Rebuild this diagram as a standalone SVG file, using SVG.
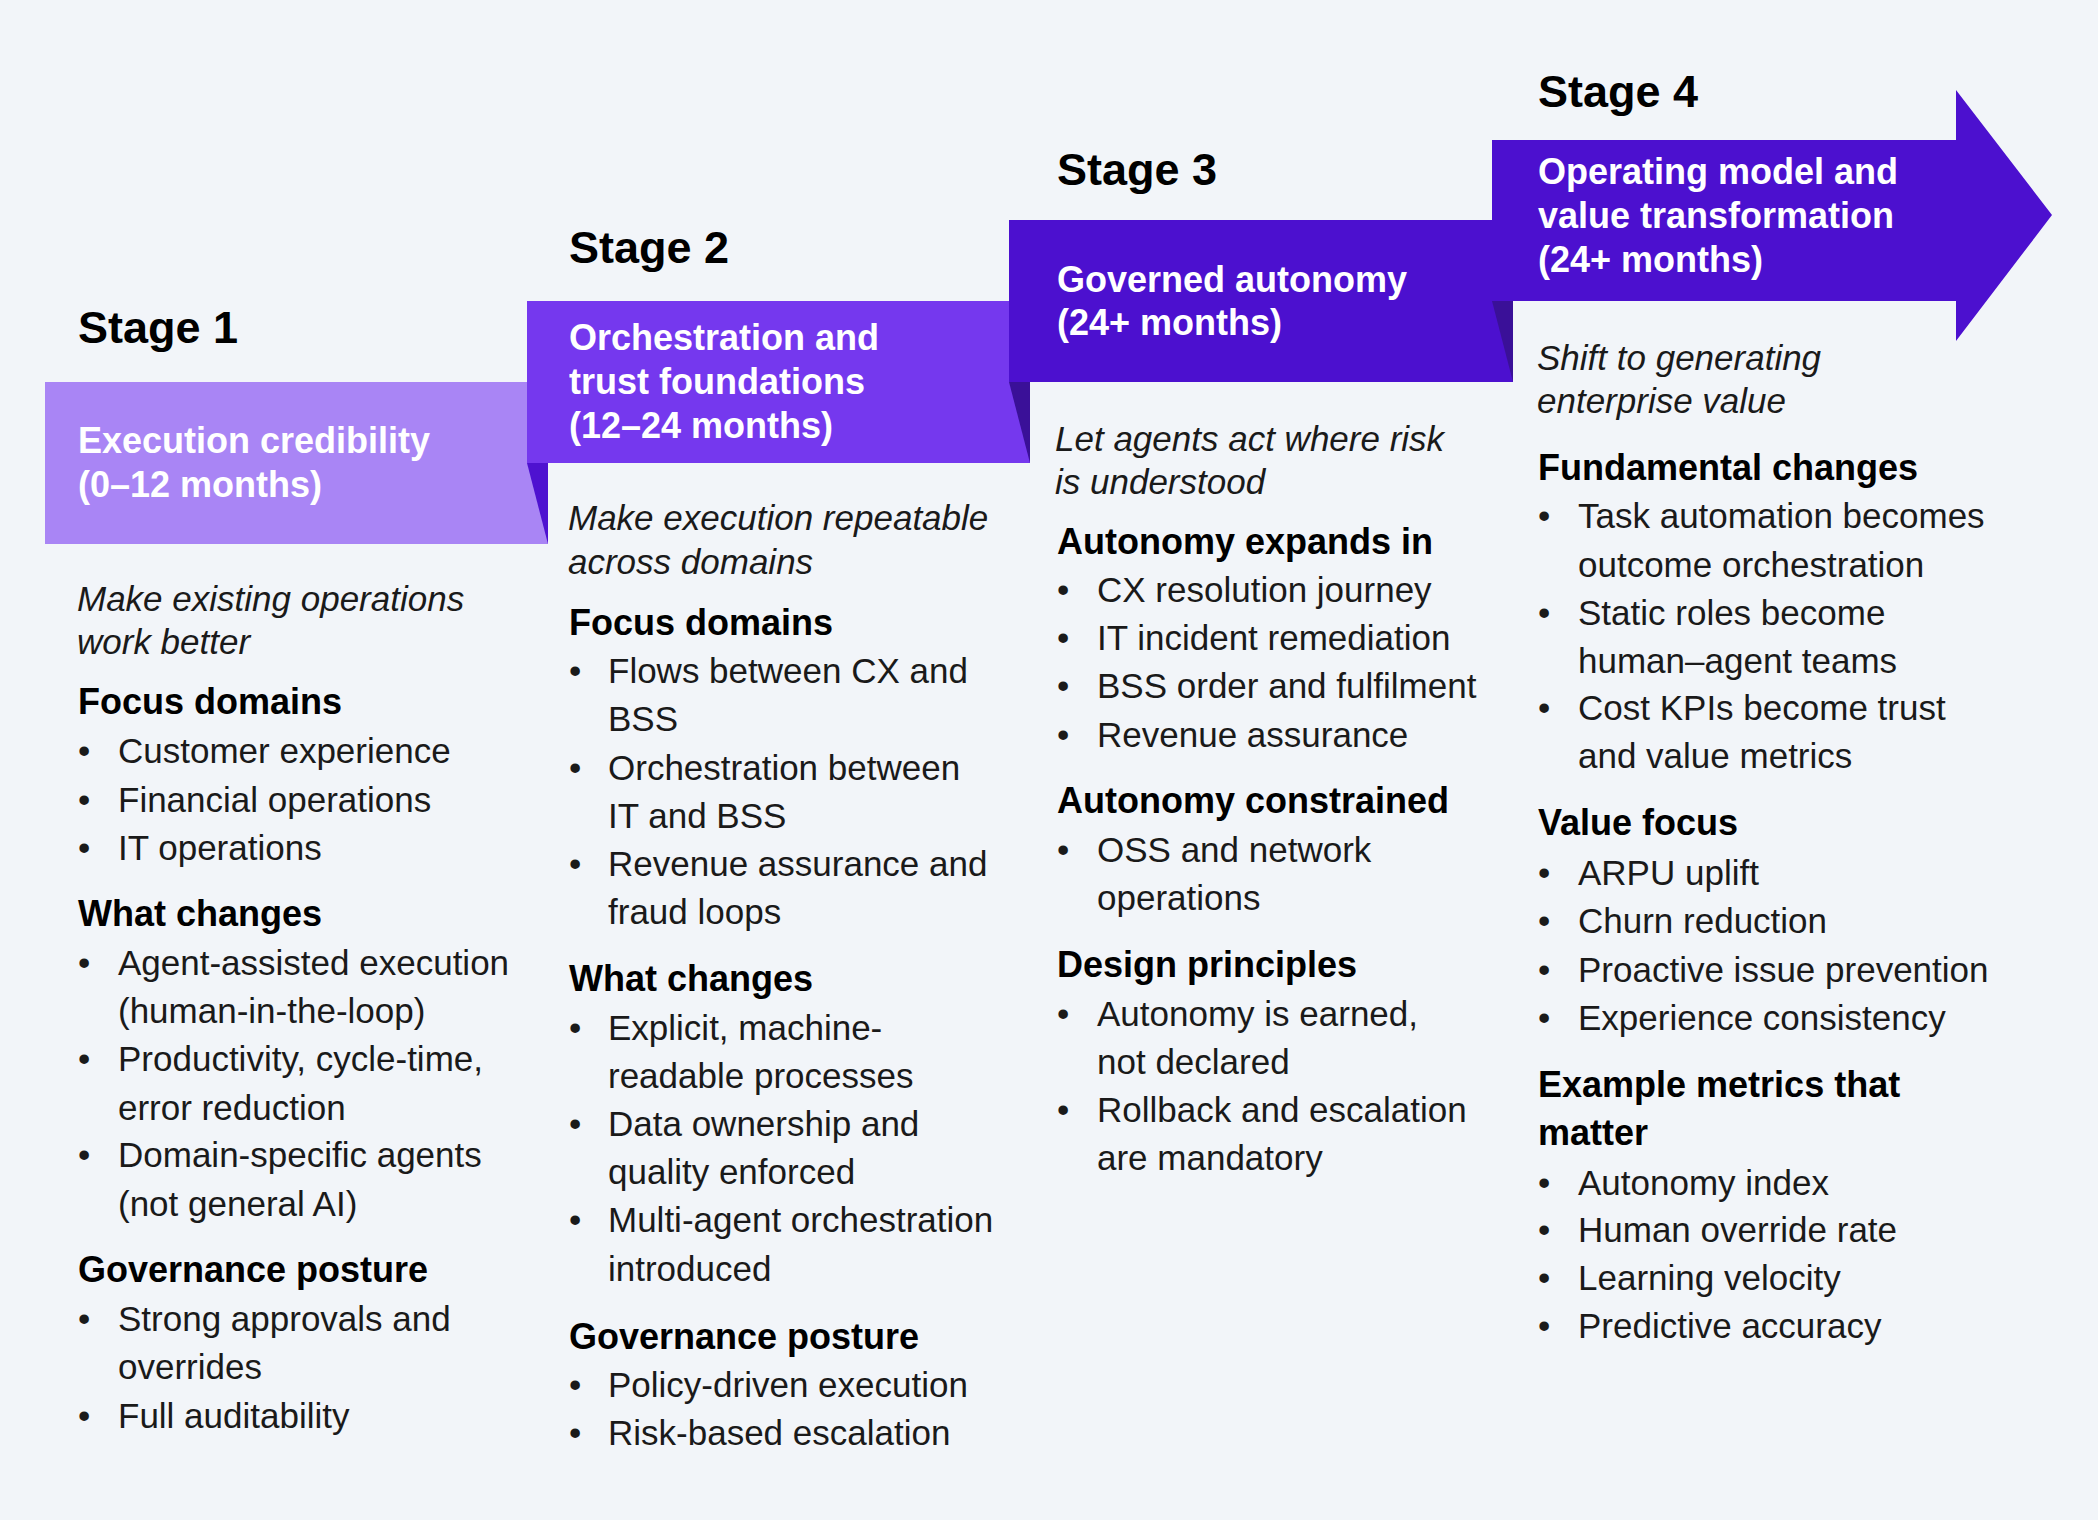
<svg xmlns="http://www.w3.org/2000/svg" width="2098" height="1520" viewBox="0 0 2098 1520">
<style>
.stage{font-family:"Liberation Sans",Arial,sans-serif;font-weight:bold;font-size:45px;fill:#000}
.box{font-family:"Liberation Sans",Arial,sans-serif;font-weight:bold;font-size:36px;fill:#fff}
.it{font-family:"Liberation Sans",Arial,sans-serif;font-style:italic;font-size:35px;fill:#1a1a1a}
.h{font-family:"Liberation Sans",Arial,sans-serif;font-weight:bold;font-size:36px;fill:#000}
.b{font-family:"Liberation Sans",Arial,sans-serif;font-size:35px;fill:#1a1a1a}
.s1{fill:#A985F5}.s2{fill:#7538EE}.s3{fill:#4C10CF}
.f1{fill:#4E12D0}.f2{fill:#3A1098}
</style>
<rect width="2098" height="1520" fill="#F2F5F9"/>

<g id="stage1">
<rect class="s1" x="45" y="382" width="503" height="162"/>
<text class="stage" x="78" y="343">Stage 1</text>
<text class="box" x="78" y="453">Execution credibility</text>
<text class="box" x="78" y="497">(0–12 months)</text>
<text class="it" x="77" y="611">Make existing operations</text>
<text class="it" x="77" y="654">work better</text>
<text class="h" x="78" y="714">Focus domains</text>
<text class="b" x="78" y="763">•</text><text class="b" x="118" y="763">Customer experience</text>
<text class="b" x="78" y="812">•</text><text class="b" x="118" y="812">Financial operations</text>
<text class="b" x="78" y="860">•</text><text class="b" x="118" y="860">IT operations</text>
<text class="h" x="78" y="926">What changes</text>
<text class="b" x="78" y="975">•</text><text class="b" x="118" y="975">Agent-assisted execution</text>
<text class="b" x="118" y="1023">(human-in-the-loop)</text>
<text class="b" x="78" y="1071">•</text><text class="b" x="118" y="1071">Productivity, cycle-time,</text>
<text class="b" x="118" y="1120">error reduction</text>
<text class="b" x="78" y="1167">•</text><text class="b" x="118" y="1167">Domain-specific agents</text>
<text class="b" x="118" y="1216">(not general AI)</text>
<text class="h" x="78" y="1282">Governance posture</text>
<text class="b" x="78" y="1331">•</text><text class="b" x="118" y="1331">Strong approvals and</text>
<text class="b" x="118" y="1379">overrides</text>
<text class="b" x="78" y="1428">•</text><text class="b" x="118" y="1428">Full auditability</text>
</g>

<g id="stage2">
<rect class="s2" x="527" y="301" width="503" height="162"/>
<text class="stage" x="569" y="263">Stage 2</text>
<text class="box" x="569" y="350">Orchestration and</text>
<text class="box" x="569" y="394">trust foundations</text>
<text class="box" x="569" y="438">(12–24 months)</text>
<text class="it" x="568" y="530">Make execution repeatable</text>
<text class="it" x="568" y="574">across domains</text>
<text class="h" x="569" y="635">Focus domains</text>
<text class="b" x="569" y="683">•</text><text class="b" x="608" y="683">Flows between CX and</text>
<text class="b" x="608" y="731">BSS</text>
<text class="b" x="569" y="780">•</text><text class="b" x="608" y="780">Orchestration between</text>
<text class="b" x="608" y="828">IT and BSS</text>
<text class="b" x="569" y="876">•</text><text class="b" x="608" y="876">Revenue assurance and</text>
<text class="b" x="608" y="924">fraud loops</text>
<text class="h" x="569" y="991">What changes</text>
<text class="b" x="569" y="1040">•</text><text class="b" x="608" y="1040">Explicit, machine-</text>
<text class="b" x="608" y="1088">readable processes</text>
<text class="b" x="569" y="1136">•</text><text class="b" x="608" y="1136">Data ownership and</text>
<text class="b" x="608" y="1184">quality enforced</text>
<text class="b" x="569" y="1232">•</text><text class="b" x="608" y="1232">Multi-agent orchestration</text>
<text class="b" x="608" y="1281">introduced</text>
<text class="h" x="569" y="1349">Governance posture</text>
<text class="b" x="569" y="1397">•</text><text class="b" x="608" y="1397">Policy-driven execution</text>
<text class="b" x="569" y="1445">•</text><text class="b" x="608" y="1445">Risk-based escalation</text>
</g>

<g id="stage3">
<rect class="s3" x="1009" y="220" width="504" height="162"/>
<text class="stage" x="1057" y="185">Stage 3</text>
<text class="box" x="1057" y="292">Governed autonomy</text>
<text class="box" x="1057" y="335">(24+ months)</text>
<text class="it" x="1055" y="451">Let agents act where risk</text>
<text class="it" x="1055" y="494">is understood</text>
<text class="h" x="1057" y="554">Autonomy expands in</text>
<text class="b" x="1057" y="602">•</text><text class="b" x="1097" y="602">CX resolution journey</text>
<text class="b" x="1057" y="650">•</text><text class="b" x="1097" y="650">IT incident remediation</text>
<text class="b" x="1057" y="698">•</text><text class="b" x="1097" y="698">BSS order and fulfilment</text>
<text class="b" x="1057" y="747">•</text><text class="b" x="1097" y="747">Revenue assurance</text>
<text class="h" x="1057" y="813">Autonomy constrained</text>
<text class="b" x="1057" y="862">•</text><text class="b" x="1097" y="862">OSS and network</text>
<text class="b" x="1097" y="910">operations</text>
<text class="h" x="1057" y="977">Design principles</text>
<text class="b" x="1057" y="1026">•</text><text class="b" x="1097" y="1026">Autonomy is earned,</text>
<text class="b" x="1097" y="1074">not declared</text>
<text class="b" x="1057" y="1122">•</text><text class="b" x="1097" y="1122">Rollback and escalation</text>
<text class="b" x="1097" y="1170">are mandatory</text>
</g>

<g id="stage4">
<polygon class="s3" points="1492,140 1956,140 1956,90 2052,215 1956,341 1956,301 1492,301"/>
<text class="stage" x="1538" y="107">Stage 4</text>
<text class="box" x="1538" y="184">Operating model and</text>
<text class="box" x="1538" y="228">value transformation</text>
<text class="box" x="1538" y="272">(24+ months)</text>
<text class="it" x="1537" y="370">Shift to generating</text>
<text class="it" x="1537" y="413">enterprise value</text>
<text class="h" x="1538" y="480">Fundamental changes</text>
<text class="b" x="1538" y="528">•</text><text class="b" x="1578" y="528">Task automation becomes</text>
<text class="b" x="1578" y="577">outcome orchestration</text>
<text class="b" x="1538" y="625">•</text><text class="b" x="1578" y="625">Static roles become</text>
<text class="b" x="1578" y="673">human–agent teams</text>
<text class="b" x="1538" y="720">•</text><text class="b" x="1578" y="720">Cost KPIs become trust</text>
<text class="b" x="1578" y="768">and value metrics</text>
<text class="h" x="1538" y="835">Value focus</text>
<text class="b" x="1538" y="885">•</text><text class="b" x="1578" y="885">ARPU uplift</text>
<text class="b" x="1538" y="933">•</text><text class="b" x="1578" y="933">Churn reduction</text>
<text class="b" x="1538" y="982">•</text><text class="b" x="1578" y="982">Proactive issue prevention</text>
<text class="b" x="1538" y="1030">•</text><text class="b" x="1578" y="1030">Experience consistency</text>
<text class="h" x="1538" y="1097">Example metrics that</text>
<text class="h" x="1538" y="1145">matter</text>
<text class="b" x="1538" y="1195">•</text><text class="b" x="1578" y="1195">Autonomy index</text>
<text class="b" x="1538" y="1242">•</text><text class="b" x="1578" y="1242">Human override rate</text>
<text class="b" x="1538" y="1290">•</text><text class="b" x="1578" y="1290">Learning velocity</text>
<text class="b" x="1538" y="1338">•</text><text class="b" x="1578" y="1338">Predictive accuracy</text>
</g>

<g id="folds">
<polygon class="f1" points="527,463 548,463 548,544"/>
<polygon class="f2" points="1009,382 1030,382 1030,463"/>
<polygon class="f2" points="1492,301 1513,301 1513,382"/>
</g>
</svg>
